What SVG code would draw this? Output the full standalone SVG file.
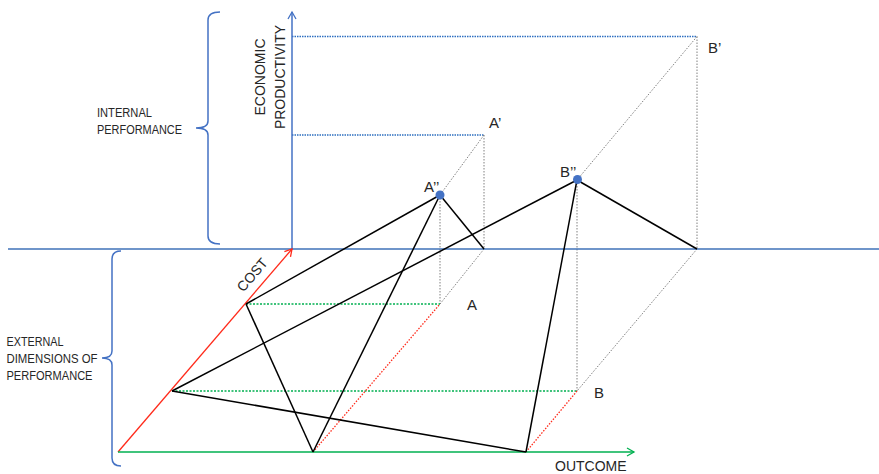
<svg xmlns="http://www.w3.org/2000/svg" width="879" height="474" viewBox="0 0 879 474">
<style>
.t{font-family:"Liberation Sans",Arial,sans-serif;fill:#262626}
.s{font-size:12.5px}
.l{font-size:15px}
.blk{stroke:#000;stroke-width:1.5;fill:none}
.gray{stroke:#808080;stroke-width:1;stroke-dasharray:1.5 1.5;fill:none}
.bd{stroke:#2E6FC0;stroke-width:1.5;stroke-dasharray:1.5 1;fill:none}
.gd{stroke:#00B050;stroke-width:1.3;stroke-dasharray:2 1.5;fill:none}
.rd{stroke:#FF2A1A;stroke-width:1.3;stroke-dasharray:1.5 1.5;fill:none}
.brace{stroke:#4472C4;stroke-width:1.5;fill:none}
</style>
<defs>
<marker id="ab" markerWidth="10" markerHeight="10" refX="8" refY="5" orient="auto" markerUnits="userSpaceOnUse"><path d="M1,1 L8,5 L1,9" fill="none" stroke="#4472C4" stroke-width="1.3"/></marker>
<marker id="ar" markerWidth="10" markerHeight="10" refX="8" refY="5" orient="auto" markerUnits="userSpaceOnUse"><path d="M1,1 L8,5 L1,9" fill="none" stroke="#FF2A1A" stroke-width="1.3"/></marker>
<marker id="ag" markerWidth="10" markerHeight="10" refX="8" refY="5" orient="auto" markerUnits="userSpaceOnUse"><path d="M1,1 L8,5 L1,9" fill="none" stroke="#00B050" stroke-width="1.3"/></marker>
</defs>
<rect width="879" height="474" fill="#fff"/>

<g id="braces">
<path class="brace" d="M220,12 Q208,12 208,20 L208,121 Q208,128 196,128 Q208,128 208,135 L208,236 Q208,244 220,244"/>
<path class="brace" d="M121,251 Q112,251 112,259 L112,351 Q112,358 102,358 Q112,358 112,365 L112,458 Q112,466 121,466"/>
</g>

<g id="connectors">
<line class="bd" x1="292" y1="36.5" x2="697" y2="36.5"/>
<line class="bd" x1="292" y1="135" x2="484" y2="135"/>
<line class="gray" x1="484" y1="135" x2="484" y2="249"/>
<line class="gray" x1="484" y1="135" x2="440" y2="195"/>
<line class="gray" x1="440" y1="195" x2="440" y2="304"/>
<line class="gray" x1="484" y1="249" x2="440" y2="304"/>
<line class="gray" x1="697" y1="36.5" x2="697" y2="249"/>
<line class="gray" x1="697" y1="36.5" x2="577" y2="180"/>
<line class="gray" x1="577" y1="180" x2="577" y2="391"/>
<line class="gray" x1="697" y1="249" x2="577" y2="391"/>
<line class="gd" x1="246" y1="304" x2="440" y2="304"/>
<line class="gd" x1="172" y1="391" x2="577" y2="391"/>
<line class="rd" x1="313" y1="452" x2="440" y2="304"/>
<line class="rd" x1="526" y1="452" x2="577" y2="391"/>
<line stroke="#3F72B8" stroke-width="1.6" x1="8" y1="249" x2="879" y2="249"/>
<line stroke="#4472C4" stroke-width="1.5" x1="292" y1="249" x2="292" y2="12" marker-end="url(#ab)"/>
<line stroke="#FF2A1A" stroke-width="1.3" x1="118" y1="452" x2="292" y2="249" marker-end="url(#ar)"/>
<line stroke="#00B050" stroke-width="1.5" x1="118" y1="452" x2="634" y2="452" marker-end="url(#ag)"/>
<line class="blk" x1="246" y1="304" x2="440" y2="195"/>
<line class="blk" x1="246" y1="304" x2="313" y2="452"/>
<line class="blk" x1="313" y1="452" x2="440" y2="195"/>
<line class="blk" x1="440" y1="195" x2="484" y2="249"/>
<line class="blk" x1="172" y1="391" x2="577" y2="180"/>
<line class="blk" x1="172" y1="391" x2="526" y2="452"/>
<line class="blk" x1="526" y1="452" x2="577" y2="180"/>
<line class="blk" x1="577" y1="180" x2="697" y2="249"/>
</g>

<g id="pointA2"><circle cx="440" cy="195" r="4.5" fill="#4472C4"/><text class="t l" x="424" y="192">A’’</text></g>
<g id="pointB2"><circle cx="577.5" cy="179.5" r="4.5" fill="#4472C4"/><text class="t l" x="560" y="177">B’’</text></g>
<g id="pointA1"><text class="t l" x="489" y="128">A’</text></g>
<g id="pointB1"><text class="t l" x="708" y="53">B’</text></g>
<g id="pointA"><text class="t l" x="467" y="310">A</text></g>
<g id="pointB"><text class="t l" x="594" y="398">B</text></g>

<g id="labels">
<text class="t s" x="97" y="117" textLength="55" lengthAdjust="spacingAndGlyphs">INTERNAL</text>
<text class="t s" x="97" y="134" textLength="85" lengthAdjust="spacingAndGlyphs">PERFORMANCE</text>
<text class="t s" x="6.5" y="346" textLength="57" lengthAdjust="spacingAndGlyphs">EXTERNAL</text>
<text class="t s" x="6.5" y="363" textLength="91" lengthAdjust="spacingAndGlyphs">DIMENSIONS OF</text>
<text class="t s" x="6.5" y="380" textLength="86" lengthAdjust="spacingAndGlyphs">PERFORMANCE</text>
<text class="t" font-size="14" text-anchor="middle" transform="translate(265,77) rotate(-90)">ECONOMIC</text>
<text class="t" font-size="14" text-anchor="middle" transform="translate(285,77) rotate(-90)">PRODUCTIVITY</text>
<text class="t" font-size="14" text-anchor="middle" transform="translate(256,278) rotate(-49.4)">COST</text>
<text class="t" font-size="14" x="555" y="471">OUTCOME</text>
</g>
</svg>
